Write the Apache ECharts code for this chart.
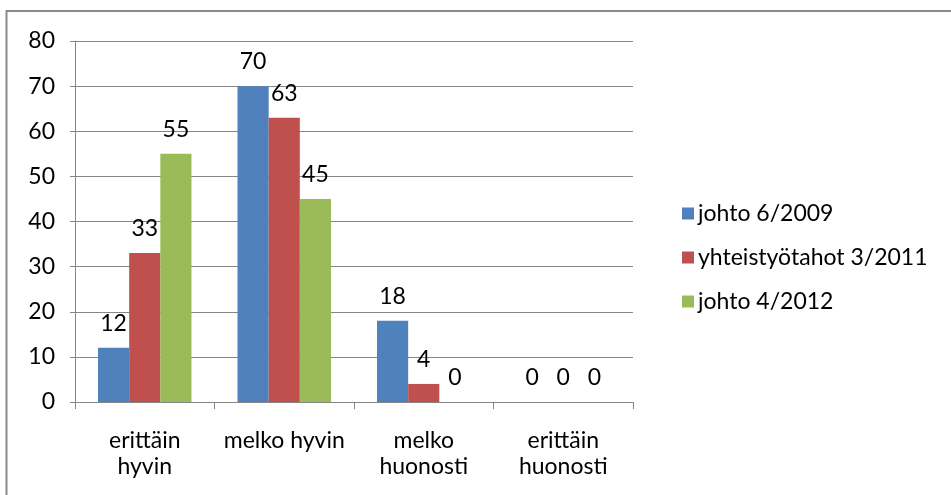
<!DOCTYPE html>
<html>
<head>
<meta charset="utf-8">
<script src="https://cdn.jsdelivr.net/npm/echarts@6/dist/echarts.min.js"></script>
<style>
html,body{margin:0;padding:0;background:#fff;}
#chart{width:951px;height:495px;}
</style>
</head>
<body>
<div id="chart"></div>
<script>
var categories = ['erittäin\nhyvin', 'melko hyvin', 'melko\nhuonosti', 'erittäin\nhuonosti'];
var seriesNames = ['johto 6/2009', 'yhteistyötahot 3/2011', 'johto 4/2012'];
var johto2009 = [12, 70, 18, 0];
var yhteistyo2011 = [33, 63, 4, 0];
var johto2012 = [55, 45, 0, 0];
var yTicks = [0, 10, 20, 30, 40, 50, 60, 70, 80];

var colors = ['#4F81BD', '#C0504D', '#9BBB59'];
var fontFam = 'Lato, "Open Sans", sans-serif';
var fs = 23;
var dataSets = [johto2009, yhteistyo2011, johto2012];

var chart = echarts.init(document.getElementById('chart'));
var series = dataSets.map(function (d, i) {
  return {
    name: seriesNames[i],
    type: 'bar',
    data: d,
    barGap: '0%',
    barCategoryGap: '33%',
    itemStyle: { color: colors[i] },
    label: {
      show: true,
      position: 'top',
      distance: 13,
      color: '#000',
      fontSize: fs,
      fontFamily: fontFam
    }
  };
});

chart.setOption({
  animation: false,
  backgroundColor: '#fff',
  graphic: [{
    type: 'rect',
    shape: { x: 6.5, y: 11, width: 1000, height: 600 },
    style: { fill: 'none', stroke: '#8a8a8a', lineWidth: 2 },
    silent: true
  }],
  grid: { left: 75, top: 41, right: 318, bottom: 93 },
  legend: {
    orient: 'vertical',
    left: 677,
    top: 197,
    itemWidth: 12,
    itemHeight: 12,
    itemGap: 21,
    icon: 'rect',
    textStyle: { fontSize: fs, fontFamily: fontFam, color: '#000', padding: [0, 0, 0, -1] },
    data: seriesNames
  },
  xAxis: {
    type: 'category',
    data: categories,
    axisLine: { lineStyle: { color: '#868686' } },
    axisTick: { show: true, length: 7, lineStyle: { color: '#868686' } },
    axisLabel: { color: '#000', fontSize: fs, fontFamily: fontFam, margin: 26, lineHeight: 26, interval: 0 }
  },
  yAxis: {
    type: 'value',
    min: yTicks[0],
    max: yTicks[yTicks.length - 1],
    interval: 10,
    axisLine: { show: true, lineStyle: { color: '#868686' } },
    axisTick: { show: true, length: 5, lineStyle: { color: '#868686' } },
    splitLine: { lineStyle: { color: '#868686' } },
    axisLabel: { color: '#000', fontSize: fs, fontFamily: fontFam, margin: 20 }
  },
  series: series
});
</script>
</body>
</html>
